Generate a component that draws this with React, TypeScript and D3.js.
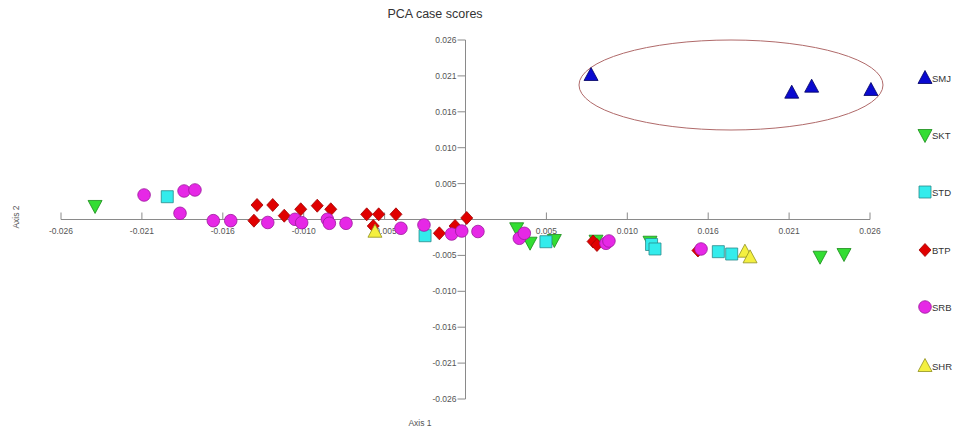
import React from "react";
import * as d3 from "d3";

const W = 953;
const H = 431;

const seriesNames = ["SMJ", "SKT", "STD", "BTP", "SRB", "SHR"];

const smjX = [0.00807, 0.02097, 0.02225, 0.02606];
const smjY = [0.02093, 0.01837, 0.01924, 0.01876];

const sktX = [-0.02381, 0.00329, 0.00415, 0.00571, 0.00839, 0.01186, 0.02279, 0.02433];
const sktY = [0.00196, -0.00127, -0.00336, -0.00297, -0.00307, -0.00322, -0.00539, -0.005];

const stdX = [-0.01917, -0.0026, 0.00517, 0.01196, 0.01218, 0.01625, 0.01711];
const stdY = [0.0033, -0.00235, -0.00322, -0.00362, -0.00427, -0.00466, -0.005];

const btpX = [-0.0134, -0.01239, -0.0136, -0.01165, -0.01059, -0.00953, -0.00866, -0.00635, -0.00558, -0.00447, -0.00593, -0.00168, -0.00067, 0.00008, 0.0082, 0.00845, 0.01494];
const btpY = [0.0021, 0.0021, -0.00017, 0.00055, 0.00148, 0.002, 0.00148, 0.00075, 0.00075, 0.00075, -0.00094, -0.002, -0.00094, 0.00022, -0.00319, -0.00369, -0.00449];

const srbX = [-0.02066, -0.01809, -0.01739, -0.01835, -0.01621, -0.01509, -0.01271, -0.01096, -0.01053, -0.00888, -0.00875, -0.00768, -0.00415, -0.00267, -0.00089, -0.00024, 0.0008, 0.00346, 0.00378, 0.00903, 0.00922, 0.01514];
const srbY = [0.00355, 0.00413, 0.00428, 0.0009, -0.00017, -0.00017, -0.00043, 0.00003, -0.00046, 0.00003, -0.00055, -0.00055, -0.00127, -0.0008, -0.0021, -0.00167, -0.00174, -0.00272, -0.002, -0.00345, -0.00311, -0.00427];

const shrX = [-0.00582, 0.01796, 0.01829];
const shrY = [-0.00177, -0.00466, -0.00548];

const tickValues = [-5, -4, -3, -2, -1, 1, 2, 3, 4, 5].map((k) => k * 0.0052);

const seriesX = [smjX, sktX, stdX, btpX, srbX, shrX];
const seriesY = [smjY, sktY, stdY, btpY, srbY, shrY];

const styles = [
  { shape: "up", fill: "#0a0ad0", stroke: "#000060" },
  { shape: "down", fill: "#33dd33", stroke: "#1a8a1a" },
  { shape: "square", fill: "#33ecec", stroke: "#2a8a8a" },
  { shape: "diamond", fill: "#e00000", stroke: "#a00000" },
  { shape: "circle", fill: "#e628e6", stroke: "#9a1a9a" },
  { shape: "up", fill: "#f4f040", stroke: "#909020" },
];

function markerPath(shape: string, cx: number, cy: number): string {
  const s = 6.5;
  switch (shape) {
    case "up":
      return `M${cx},${cy - s - 1}L${cx + s + 0.5},${cy + s - 1}L${cx - s - 0.5},${cy + s - 1}Z`;
    case "down":
      return `M${cx},${cy + s + 1}L${cx + s + 0.5},${cy - s + 1}L${cx - s - 0.5},${cy - s + 1}Z`;
    case "square":
      return `M${cx - 6},${cy - 6}h12v12h-12Z`;
    case "diamond":
      return `M${cx},${cy - 6.5}L${cx + 6},${cy}L${cx},${cy + 6.5}L${cx - 6},${cy}Z`;
    default:
      return "";
  }
}

function Marker({ shape, fill, stroke, cx, cy }: any) {
  if (shape === "circle") {
    return <circle cx={cx} cy={cy} r={6.3} fill={fill} stroke={stroke} strokeWidth={0.8} />;
  }
  return <path d={markerPath(shape, cx, cy)} fill={fill} stroke={stroke} strokeWidth={0.8} />;
}

export default function App() {
  const x = d3.scaleLinear().domain([-0.026, 0.026]).range([61, 870]);
  const y = d3.scaleLinear().domain([-0.026, 0.026]).range([399, 40]);
  const fmt = (v: number) => v.toFixed(3);
  const font = "'Liberation Sans', Arial, sans-serif";
  const axisColor = "#8a8a8a";
  const labelColor = "#555";

  const legendY = [78, 135, 192, 250, 307, 366];

  return (
    <svg width={W} height={H} style={{ position: "absolute", left: 0, top: 0, background: "#fff" }} fontFamily={font}>
      <rect width={W} height={H} fill="#fff" />
      <text x={435} y={18} textAnchor="middle" fontSize={12.5} fill="#333">PCA case scores</text>

      {/* axes */}
      <line x1={x(-0.026)} x2={x(0.026)} y1={y(0)} y2={y(0)} stroke={axisColor} strokeWidth={1} />
      <line x1={x(0)} x2={x(0)} y1={y(0.026)} y2={y(-0.026)} stroke={axisColor} strokeWidth={1} />

      {tickValues.map((t, i) => (
        <g key={"xt" + i}>
          <line x1={x(t)} x2={x(t)} y1={y(0)} y2={y(0) - 7} stroke={axisColor} />
          <text x={x(t)} y={y(0) + 14} textAnchor="middle" fontSize={8.5} fill={labelColor}>{fmt(t)}</text>
        </g>
      ))}
      {tickValues.map((t, i) => (
        <g key={"yt" + i}>
          <line x1={x(0) - 8} x2={x(0)} y1={y(t)} y2={y(t)} stroke={axisColor} />
          <text x={x(0) - 9} y={y(t) + 3} textAnchor="end" fontSize={8.5} fill={labelColor}>{fmt(t)}</text>
        </g>
      ))}

      <text x={420} y={426} textAnchor="middle" fontSize={8.5} fill={labelColor}>Axis 1</text>
      <text transform={`translate(19,217) rotate(-90)`} textAnchor="middle" fontSize={8.5} fill={labelColor}>Axis 2</text>

      {/* ellipse */}
      <ellipse cx={731} cy={85} rx={152} ry={45} fill="none" stroke="#b06a6a" strokeWidth={1} />

      {/* points */}
      {seriesNames.map((name, si) => (
        <g key={name}>
          {seriesX[si].map((vx, i) => (
            <Marker key={i} {...styles[si]} cx={x(vx)} cy={y(seriesY[si][i])} />
          ))}
        </g>
      ))}

      {/* legend */}
      {seriesNames.map((name, si) => (
        <g key={"lg" + name}>
          <Marker {...styles[si]} cx={925} cy={legendY[si]} />
          <text x={932} y={legendY[si] + 3.5} fontSize={9.5} fill="#333">{name}</text>
        </g>
      ))}
    </svg>
  );
}
